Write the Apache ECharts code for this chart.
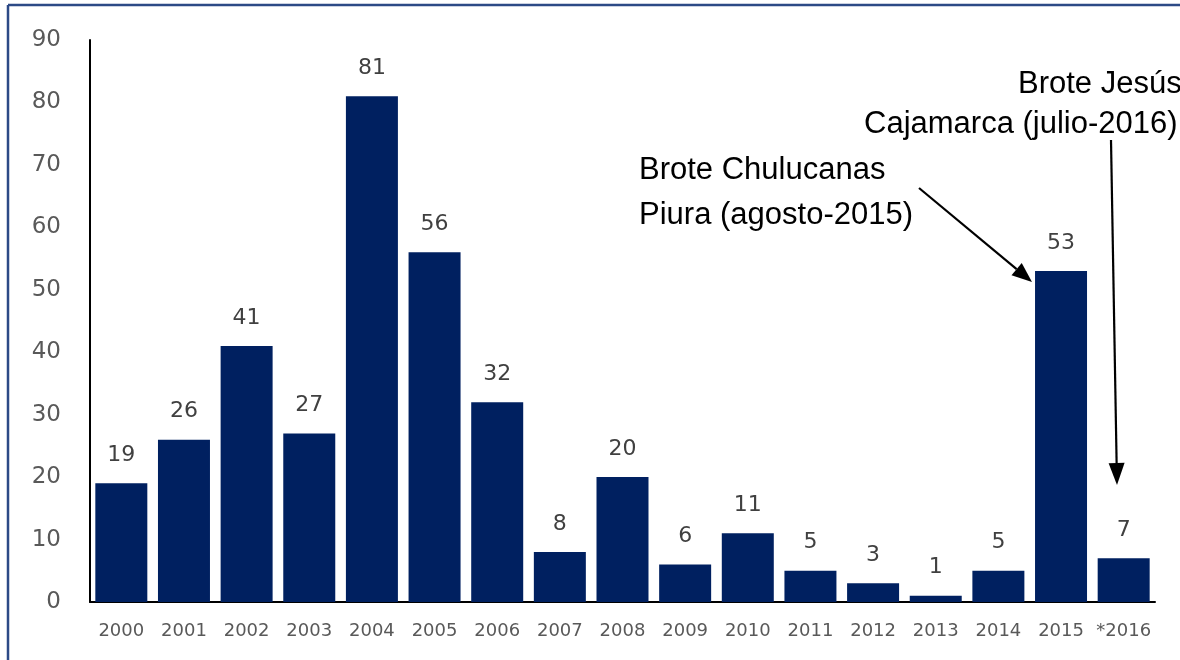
<!DOCTYPE html>
<html>
<head>
<meta charset="utf-8">
<script src="https://cdn.jsdelivr.net/npm/echarts@6/dist/echarts.min.js"></script>
<style>
html,body{margin:0;padding:0;background:#fff;}
#chart{width:1180px;height:660px;}
</style>
</head>
<body>
<div id="chart"></div>
<script>
const categories = ['2000','2001','2002','2003','2004','2005','2006','2007','2008','2009','2010','2011','2012','2013','2014','2015','*2016'];
const casos = [19,26,41,27,81,56,32,8,20,6,11,5,3,1,5,53,7];
const yTicks = [0,10,20,30,40,50,60,70,80,90];

function arrow(x1,y1,x2,y2,len,half){
  const dx=x2-x1, dy=y2-y1, d=Math.sqrt(dx*dx+dy*dy);
  const ux=dx/d, uy=dy/d;
  const bx=x2-ux*len, by=y2-uy*len;
  const px=-uy, py=ux;
  return [
    {type:'line',shape:{x1:x1,y1:y1,x2:bx,y2:by},style:{stroke:'#000',lineWidth:2.2},z:10},
    {type:'polygon',shape:{points:[[x2,y2],[bx+px*half,by+py*half],[bx-px*half,by-py*half]]},style:{fill:'#000'},z:10}
  ];
}

const chart = echarts.init(document.getElementById('chart'));
const annFont = {fontFamily:'Liberation Sans, Arial, sans-serif', fontSize:31, fill:'#000'};
chart.setOption({
  animation:false,
  grid:{left:90,right:25,top:40,bottom:58},
  xAxis:{
    type:'category',
    data:categories,
    axisLine:{lineStyle:{color:'#000',width:2}},
    axisTick:{show:false},
    axisLabel:{interval:0,color:'#595959',fontSize:18,fontFamily:'DejaVu Sans',margin:20}
  },
  yAxis:{
    type:'value',
    min:0,max:90,interval:10,
    axisLine:{show:true,lineStyle:{color:'#000',width:2}},
    axisTick:{show:false},
    splitLine:{show:false},
    axisLabel:{color:'#595959',fontSize:23,fontFamily:'DejaVu Sans',margin:29,
      formatter:function(v){return yTicks.indexOf(v)>=0?String(v):'';}}
  },
  series:[{
    type:'bar',
    data:casos,
    barCategoryGap:'17%',
    itemStyle:{color:'#002060'},
    label:{show:true,position:'top',distance:17,color:'#404040',fontSize:22,fontFamily:'DejaVu Sans'}
  }],
  graphic:[
    {type:'line',shape:{x1:8,y1:5,x2:1180,y2:5},style:{stroke:'#2c4a86',lineWidth:2.5},z:20},
    {type:'line',shape:{x1:8,y1:5,x2:8,y2:660},style:{stroke:'#2c4a86',lineWidth:2.5},z:20},
    {type:'text',left:639,top:155,style:Object.assign({text:'Brote Chulucanas'},annFont),z:10},
    {type:'text',left:639,top:200,style:Object.assign({text:'Piura (agosto-2015)'},annFont),z:10},
    {type:'text',left:1018,top:69,style:Object.assign({text:'Brote Jesús'},annFont),z:10},
    {type:'text',left:864,top:109,style:Object.assign({text:'Cajamarca (julio-2016)'},annFont),z:10}
  ].concat(arrow(919,188,1032,282,20,8)).concat(arrow(1111,140,1117,485,22,8))
});
</script>
</body>
</html>
